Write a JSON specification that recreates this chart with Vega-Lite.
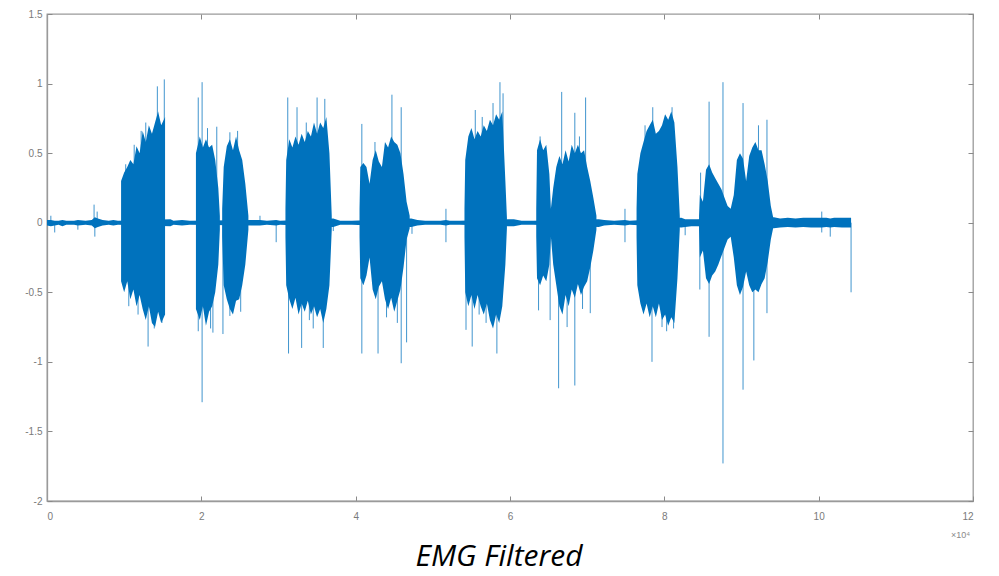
{
  "$schema": "https://vega.github.io/schema/vega-lite/v6.json",
  "width": 926,
  "height": 487,
  "autosize": {"type": "none"},
  "padding": {"left": 47, "top": 14, "right": 26, "bottom": 75},
  "background": "white",
  "config": {
    "view": {"stroke": "#9a9a9a", "strokeWidth": 1.3},
    "axis": {"grid": false, "labelColor": "#7a7a7a", "labelFontSize": 10, "labelFont": "Liberation Sans", "tickColor": "#8a8a8a", "domainColor": "#9a9a9a", "domainWidth": 1.3, "tickSize": -5}
  },
  "title": {"text": "EMG Filtered", "orient": "bottom", "anchor": "middle", "fontSize": 30, "fontStyle": "italic", "fontWeight": "normal", "font": "Open Sans", "color": "#000000", "offset": 3, "dx": -11},
  "datasets": {
    "quiet": [
      {"x": 0.00, "lo": -0.02, "hi": 0.02}, {"x": 0.05, "lo": -0.025, "hi": 0.02}, {"x": 0.10, "lo": -0.02, "hi": 0.015},
      {"x": 0.15, "lo": -0.015, "hi": 0.015}, {"x": 0.20, "lo": -0.025, "hi": 0.02}, {"x": 0.25, "lo": -0.015, "hi": 0.015},
      {"x": 0.35, "lo": -0.015, "hi": 0.015}, {"x": 0.40, "lo": -0.02, "hi": 0.02}, {"x": 0.50, "lo": -0.015, "hi": 0.015},
      {"x": 0.58, "lo": -0.02, "hi": 0.02}, {"x": 0.62, "lo": -0.04, "hi": 0.04}, {"x": 0.66, "lo": -0.03, "hi": 0.03},
      {"x": 0.72, "lo": -0.02, "hi": 0.02}, {"x": 0.80, "lo": -0.015, "hi": 0.015}, {"x": 0.86, "lo": -0.02, "hi": 0.02},
      {"x": 0.92, "lo": -0.015, "hi": 0.015}, {"x": 1.60, "lo": -0.025, "hi": 0.025}, {"x": 1.64, "lo": -0.015, "hi": 0.015},
      {"x": 1.75, "lo": -0.02, "hi": 0.02}, {"x": 1.85, "lo": -0.015, "hi": 0.015}, {"x": 2.65, "lo": -0.02, "hi": 0.02},
      {"x": 2.76, "lo": -0.02, "hi": 0.02}, {"x": 2.85, "lo": -0.015, "hi": 0.015}, {"x": 2.97, "lo": -0.02, "hi": 0.02},
      {"x": 3.02, "lo": -0.015, "hi": 0.015}, {"x": 3.71, "lo": -0.03, "hi": 0.03}, {"x": 3.80, "lo": -0.015, "hi": 0.015},
      {"x": 3.95, "lo": -0.015, "hi": 0.015}, {"x": 4.72, "lo": -0.03, "hi": 0.03}, {"x": 4.80, "lo": -0.02, "hi": 0.02},
      {"x": 4.90, "lo": -0.015, "hi": 0.015}, {"x": 5.10, "lo": -0.015, "hi": 0.015}, {"x": 5.17, "lo": -0.02, "hi": 0.02},
      {"x": 5.22, "lo": -0.015, "hi": 0.015}, {"x": 5.35, "lo": -0.015, "hi": 0.015}, {"x": 5.98, "lo": -0.025, "hi": 0.025},
      {"x": 6.05, "lo": -0.025, "hi": 0.025}, {"x": 6.15, "lo": -0.015, "hi": 0.015}, {"x": 6.30, "lo": -0.015, "hi": 0.015},
      {"x": 7.15, "lo": -0.03, "hi": 0.025}, {"x": 7.22, "lo": -0.02, "hi": 0.02}, {"x": 7.35, "lo": -0.015, "hi": 0.015},
      {"x": 7.49, "lo": -0.02, "hi": 0.02}, {"x": 7.55, "lo": -0.015, "hi": 0.015}, {"x": 8.22, "lo": -0.035, "hi": 0.035},
      {"x": 8.27, "lo": -0.03, "hi": 0.025}, {"x": 8.35, "lo": -0.025, "hi": 0.025}, {"x": 8.42, "lo": -0.025, "hi": 0.025},
      {"x": 8.86, "lo": -0.03, "hi": 0.03}, {"x": 9.42, "lo": -0.04, "hi": 0.04}, {"x": 9.50, "lo": -0.035, "hi": 0.03},
      {"x": 9.60, "lo": -0.03, "hi": 0.035}, {"x": 9.70, "lo": -0.035, "hi": 0.03}, {"x": 9.80, "lo": -0.03, "hi": 0.035},
      {"x": 9.90, "lo": -0.035, "hi": 0.035}, {"x": 10.04, "lo": -0.035, "hi": 0.035}, {"x": 10.10, "lo": -0.03, "hi": 0.035},
      {"x": 10.15, "lo": -0.035, "hi": 0.03}, {"x": 10.20, "lo": -0.03, "hi": 0.035}, {"x": 10.30, "lo": -0.035, "hi": 0.035},
      {"x": 10.42, "lo": -0.035, "hi": 0.035}
    ],
    "burst": [
      {"b": 1, "x": 0.96, "lo": -0.42, "hi": 0.30}, {"b": 1, "x": 1.00, "lo": -0.50, "hi": 0.36}, {"b": 1, "x": 1.04, "lo": -0.42, "hi": 0.40},
      {"b": 1, "x": 1.08, "lo": -0.55, "hi": 0.45}, {"b": 1, "x": 1.12, "lo": -0.48, "hi": 0.42}, {"b": 1, "x": 1.16, "lo": -0.60, "hi": 0.55},
      {"b": 1, "x": 1.20, "lo": -0.52, "hi": 0.50}, {"b": 1, "x": 1.24, "lo": -0.62, "hi": 0.66}, {"b": 1, "x": 1.28, "lo": -0.70, "hi": 0.58},
      {"b": 1, "x": 1.32, "lo": -0.60, "hi": 0.70}, {"b": 1, "x": 1.36, "lo": -0.72, "hi": 0.64}, {"b": 1, "x": 1.40, "lo": -0.75, "hi": 0.72},
      {"b": 1, "x": 1.44, "lo": -0.64, "hi": 0.80}, {"b": 1, "x": 1.48, "lo": -0.72, "hi": 0.70}, {"b": 1, "x": 1.53, "lo": -0.66, "hi": 0.76},
      {"b": 2, "x": 1.93, "lo": -0.62, "hi": 0.50}, {"b": 2, "x": 1.98, "lo": -0.70, "hi": 0.62}, {"b": 2, "x": 2.02, "lo": -0.60, "hi": 0.54},
      {"b": 2, "x": 2.06, "lo": -0.74, "hi": 0.60}, {"b": 2, "x": 2.10, "lo": -0.64, "hi": 0.54}, {"b": 2, "x": 2.14, "lo": -0.60, "hi": 0.56},
      {"b": 2, "x": 2.18, "lo": -0.50, "hi": 0.45}, {"b": 2, "x": 2.22, "lo": -0.30, "hi": 0.25}, {"b": 2, "x": 2.24, "lo": -0.05, "hi": 0.05},
      {"b": 3, "x": 2.27, "lo": -0.10, "hi": 0.10}, {"b": 3, "x": 2.29, "lo": -0.45, "hi": 0.40}, {"b": 3, "x": 2.33, "lo": -0.55, "hi": 0.55}, {"b": 3, "x": 2.37, "lo": -0.62, "hi": 0.60},
      {"b": 3, "x": 2.41, "lo": -0.66, "hi": 0.52}, {"b": 3, "x": 2.45, "lo": -0.56, "hi": 0.62}, {"b": 3, "x": 2.49, "lo": -0.55, "hi": 0.52},
      {"b": 3, "x": 2.53, "lo": -0.45, "hi": 0.45}, {"b": 3, "x": 2.57, "lo": -0.30, "hi": 0.28}, {"b": 3, "x": 2.61, "lo": -0.05, "hi": 0.05},
      {"b": 4, "x": 3.09, "lo": -0.10, "hi": 0.10}, {"b": 4, "x": 3.10, "lo": -0.45, "hi": 0.45}, {"b": 4, "x": 3.14, "lo": -0.55, "hi": 0.60}, {"b": 4, "x": 3.18, "lo": -0.62, "hi": 0.54},
      {"b": 4, "x": 3.22, "lo": -0.54, "hi": 0.62}, {"b": 4, "x": 3.26, "lo": -0.66, "hi": 0.56}, {"b": 4, "x": 3.30, "lo": -0.58, "hi": 0.64},
      {"b": 4, "x": 3.34, "lo": -0.64, "hi": 0.58}, {"b": 4, "x": 3.38, "lo": -0.56, "hi": 0.66}, {"b": 4, "x": 3.42, "lo": -0.66, "hi": 0.62},
      {"b": 4, "x": 3.46, "lo": -0.60, "hi": 0.72}, {"b": 4, "x": 3.50, "lo": -0.68, "hi": 0.64}, {"b": 4, "x": 3.54, "lo": -0.62, "hi": 0.72},
      {"b": 4, "x": 3.58, "lo": -0.72, "hi": 0.68}, {"b": 4, "x": 3.62, "lo": -0.62, "hi": 0.76}, {"b": 4, "x": 3.66, "lo": -0.45, "hi": 0.50},
      {"b": 4, "x": 3.69, "lo": -0.05, "hi": 0.05},
      {"b": 5, "x": 4.05, "lo": -0.10, "hi": 0.10}, {"b": 5, "x": 4.06, "lo": -0.40, "hi": 0.40}, {"b": 5, "x": 4.10, "lo": -0.45, "hi": 0.43}, {"b": 5, "x": 4.14, "lo": -0.38, "hi": 0.40},
      {"b": 5, "x": 4.18, "lo": -0.25, "hi": 0.28}, {"b": 5, "x": 4.22, "lo": -0.48, "hi": 0.45}, {"b": 5, "x": 4.26, "lo": -0.55, "hi": 0.52},
      {"b": 5, "x": 4.30, "lo": -0.46, "hi": 0.44}, {"b": 5, "x": 4.34, "lo": -0.42, "hi": 0.40}, {"b": 5, "x": 4.38, "lo": -0.55, "hi": 0.58},
      {"b": 5, "x": 4.42, "lo": -0.62, "hi": 0.54}, {"b": 5, "x": 4.46, "lo": -0.54, "hi": 0.62}, {"b": 5, "x": 4.50, "lo": -0.64, "hi": 0.58},
      {"b": 5, "x": 4.54, "lo": -0.56, "hi": 0.56}, {"b": 5, "x": 4.58, "lo": -0.48, "hi": 0.50}, {"b": 5, "x": 4.62, "lo": -0.32, "hi": 0.35},
      {"b": 5, "x": 4.66, "lo": -0.12, "hi": 0.15}, {"b": 5, "x": 4.70, "lo": -0.04, "hi": 0.05},
      {"b": 6, "x": 5.41, "lo": -0.10, "hi": 0.10}, {"b": 6, "x": 5.42, "lo": -0.50, "hi": 0.45}, {"b": 6, "x": 5.46, "lo": -0.60, "hi": 0.62}, {"b": 6, "x": 5.50, "lo": -0.52, "hi": 0.68},
      {"b": 6, "x": 5.54, "lo": -0.62, "hi": 0.60}, {"b": 6, "x": 5.58, "lo": -0.52, "hi": 0.66}, {"b": 6, "x": 5.62, "lo": -0.60, "hi": 0.62},
      {"b": 6, "x": 5.66, "lo": -0.66, "hi": 0.70}, {"b": 6, "x": 5.70, "lo": -0.58, "hi": 0.66}, {"b": 6, "x": 5.74, "lo": -0.70, "hi": 0.74},
      {"b": 6, "x": 5.78, "lo": -0.76, "hi": 0.70}, {"b": 6, "x": 5.82, "lo": -0.66, "hi": 0.78}, {"b": 6, "x": 5.86, "lo": -0.72, "hi": 0.74},
      {"b": 6, "x": 5.90, "lo": -0.60, "hi": 0.80}, {"b": 6, "x": 5.94, "lo": -0.30, "hi": 0.30}, {"b": 6, "x": 5.96, "lo": -0.04, "hi": 0.04},
      {"b": 7, "x": 6.34, "lo": -0.10, "hi": 0.10}, {"b": 7, "x": 6.35, "lo": -0.40, "hi": 0.52}, {"b": 7, "x": 6.39, "lo": -0.45, "hi": 0.60}, {"b": 7, "x": 6.43, "lo": -0.38, "hi": 0.52},
      {"b": 7, "x": 6.47, "lo": -0.42, "hi": 0.56}, {"b": 7, "x": 6.51, "lo": -0.30, "hi": 0.35}, {"b": 7, "x": 6.53, "lo": -0.10, "hi": 0.10},
      {"b": 7, "x": 6.56, "lo": -0.30, "hi": 0.25}, {"b": 7, "x": 6.60, "lo": -0.45, "hi": 0.40}, {"b": 7, "x": 6.64, "lo": -0.60, "hi": 0.48},
      {"b": 7, "x": 6.68, "lo": -0.66, "hi": 0.42}, {"b": 7, "x": 6.72, "lo": -0.52, "hi": 0.52}, {"b": 7, "x": 6.76, "lo": -0.60, "hi": 0.44},
      {"b": 7, "x": 6.80, "lo": -0.48, "hi": 0.56}, {"b": 7, "x": 6.84, "lo": -0.54, "hi": 0.50}, {"b": 7, "x": 6.88, "lo": -0.44, "hi": 0.56},
      {"b": 7, "x": 6.92, "lo": -0.52, "hi": 0.50}, {"b": 7, "x": 6.96, "lo": -0.46, "hi": 0.52}, {"b": 7, "x": 7.00, "lo": -0.42, "hi": 0.40},
      {"b": 7, "x": 7.04, "lo": -0.32, "hi": 0.30}, {"b": 7, "x": 7.08, "lo": -0.20, "hi": 0.18}, {"b": 7, "x": 7.12, "lo": -0.05, "hi": 0.05},
      {"b": 8, "x": 7.64, "lo": -0.10, "hi": 0.10}, {"b": 8, "x": 7.65, "lo": -0.45, "hi": 0.35}, {"b": 8, "x": 7.69, "lo": -0.58, "hi": 0.50}, {"b": 8, "x": 7.73, "lo": -0.66, "hi": 0.58},
      {"b": 8, "x": 7.77, "lo": -0.58, "hi": 0.66}, {"b": 8, "x": 7.81, "lo": -0.68, "hi": 0.70}, {"b": 8, "x": 7.85, "lo": -0.60, "hi": 0.74},
      {"b": 8, "x": 7.89, "lo": -0.68, "hi": 0.64}, {"b": 8, "x": 7.93, "lo": -0.58, "hi": 0.66}, {"b": 8, "x": 7.97, "lo": -0.70, "hi": 0.70},
      {"b": 8, "x": 8.01, "lo": -0.66, "hi": 0.78}, {"b": 8, "x": 8.05, "lo": -0.74, "hi": 0.74}, {"b": 8, "x": 8.09, "lo": -0.68, "hi": 0.80},
      {"b": 8, "x": 8.13, "lo": -0.72, "hi": 0.72}, {"b": 8, "x": 8.17, "lo": -0.40, "hi": 0.40}, {"b": 8, "x": 8.20, "lo": -0.05, "hi": 0.05},
      {"b": 9, "x": 8.45, "lo": -0.05, "hi": 0.05}, {"b": 9, "x": 8.46, "lo": -0.25, "hi": 0.20}, {"b": 9, "x": 8.50, "lo": -0.20, "hi": 0.15}, {"b": 9, "x": 8.54, "lo": -0.40, "hi": 0.38},
      {"b": 9, "x": 8.58, "lo": -0.44, "hi": 0.42}, {"b": 9, "x": 8.62, "lo": -0.38, "hi": 0.36}, {"b": 9, "x": 8.66, "lo": -0.35, "hi": 0.32},
      {"b": 9, "x": 8.70, "lo": -0.30, "hi": 0.28}, {"b": 9, "x": 8.74, "lo": -0.24, "hi": 0.24}, {"b": 9, "x": 8.78, "lo": -0.18, "hi": 0.18},
      {"b": 9, "x": 8.82, "lo": -0.12, "hi": 0.12}, {"b": 9, "x": 8.86, "lo": -0.10, "hi": 0.10},
      {"b": 9, "x": 8.90, "lo": -0.25, "hi": 0.20}, {"b": 9, "x": 8.94, "lo": -0.45, "hi": 0.45}, {"b": 9, "x": 8.98, "lo": -0.52, "hi": 0.50},
      {"b": 9, "x": 9.02, "lo": -0.46, "hi": 0.46}, {"b": 9, "x": 9.06, "lo": -0.35, "hi": 0.30}, {"b": 9, "x": 9.10, "lo": -0.45, "hi": 0.48},
      {"b": 9, "x": 9.14, "lo": -0.50, "hi": 0.54}, {"b": 9, "x": 9.18, "lo": -0.48, "hi": 0.58}, {"b": 9, "x": 9.22, "lo": -0.50, "hi": 0.52},
      {"b": 9, "x": 9.26, "lo": -0.44, "hi": 0.52}, {"b": 9, "x": 9.30, "lo": -0.40, "hi": 0.42}, {"b": 9, "x": 9.34, "lo": -0.28, "hi": 0.30},
      {"b": 9, "x": 9.38, "lo": -0.12, "hi": 0.12}, {"b": 9, "x": 9.41, "lo": -0.04, "hi": 0.04}
    ],
    "spike": [
      {"x": 0.05, "v": 0.05}, {"x": 0.10, "v": -0.07}, {"x": 0.40, "v": -0.05}, {"x": 0.61, "v": 0.13}, {"x": 0.62, "v": -0.10}, {"x": 0.65, "v": 0.08},
      {"x": 1.02, "v": 0.42}, {"x": 1.06, "v": -0.60}, {"x": 1.13, "v": 0.56}, {"x": 1.18, "v": -0.66}, {"x": 1.22, "v": 0.66},
      {"x": 1.28, "v": 0.72}, {"x": 1.43, "v": 0.98}, {"x": 1.52, "v": 1.03}, {"x": 1.31, "v": -0.89}, {"x": 1.39, "v": -0.76}, {"x": 1.49, "v": -0.72},
      {"x": 1.96, "v": 0.90}, {"x": 2.01, "v": 1.01}, {"x": 2.01, "v": -1.29}, {"x": 1.96, "v": -0.78}, {"x": 2.15, "v": -0.79}, {"x": 2.20, "v": 0.69},
      {"x": 2.08, "v": 0.68}, {"x": 2.12, "v": -0.76},
      {"x": 2.28, "v": -0.80}, {"x": 2.37, "v": -0.67}, {"x": 2.37, "v": 0.65}, {"x": 2.47, "v": 0.66}, {"x": 2.51, "v": -0.64},
      {"x": 2.76, "v": 0.05}, {"x": 2.97, "v": -0.14},
      {"x": 3.12, "v": 0.90}, {"x": 3.24, "v": 0.83}, {"x": 3.50, "v": 0.90}, {"x": 3.60, "v": 0.89}, {"x": 3.13, "v": -0.94}, {"x": 3.30, "v": -0.90}, {"x": 3.58, "v": -0.90}, {"x": 3.45, "v": -0.76},
      {"x": 3.36, "v": 0.72}, {"x": 3.40, "v": -0.70}, {"x": 3.71, "v": -0.06},
      {"x": 4.08, "v": 0.71}, {"x": 4.47, "v": 0.92}, {"x": 4.59, "v": 0.83}, {"x": 4.08, "v": -0.94}, {"x": 4.29, "v": -0.94}, {"x": 4.59, "v": -1.01}, {"x": 4.66, "v": -0.86}, {"x": 4.54, "v": -0.72},
      {"x": 4.25, "v": 0.58}, {"x": 4.40, "v": -0.68}, {"x": 4.73, "v": -0.08}, {"x": 5.17, "v": 0.10}, {"x": 5.17, "v": -0.14},
      {"x": 5.55, "v": 0.81}, {"x": 5.78, "v": 0.86}, {"x": 5.87, "v": 1.01}, {"x": 5.91, "v": 0.93}, {"x": 5.43, "v": -0.77}, {"x": 5.51, "v": -0.89}, {"x": 5.83, "v": -0.94}, {"x": 5.69, "v": -0.72},
      {"x": 5.64, "v": 0.76}, {"x": 5.60, "v": -0.66},
      {"x": 6.39, "v": 0.62}, {"x": 6.37, "v": -0.63}, {"x": 6.52, "v": -0.70},
      {"x": 6.67, "v": 0.94}, {"x": 6.84, "v": 0.79}, {"x": 6.98, "v": 0.90}, {"x": 6.63, "v": -1.19}, {"x": 6.84, "v": -1.17}, {"x": 7.04, "v": -0.65}, {"x": 6.74, "v": -0.75},
      {"x": 6.90, "v": 0.62}, {"x": 6.94, "v": -0.62}, {"x": 7.49, "v": 0.10}, {"x": 7.49, "v": -0.14},
      {"x": 7.85, "v": 0.83}, {"x": 8.10, "v": 0.83}, {"x": 7.84, "v": -1.00}, {"x": 7.97, "v": -0.75}, {"x": 8.12, "v": -0.76},
      {"x": 7.75, "v": 0.70}, {"x": 8.03, "v": -0.78}, {"x": 8.27, "v": -0.09},
      {"x": 8.47, "v": 0.36}, {"x": 8.58, "v": 0.87}, {"x": 8.76, "v": 1.01}, {"x": 8.46, "v": -0.48}, {"x": 8.58, "v": -0.82}, {"x": 8.76, "v": -1.73},
      {"x": 9.02, "v": 0.86}, {"x": 9.33, "v": 0.74}, {"x": 9.22, "v": 0.70}, {"x": 9.02, "v": -1.20}, {"x": 9.16, "v": -0.99}, {"x": 9.33, "v": -0.65},
      {"x": 10.04, "v": 0.08}, {"x": 10.04, "v": -0.07}, {"x": 10.15, "v": -0.10},
      {"x": 10.42, "v": -0.50}
    ]
  },
  "layer": [
    {
      "data": {"name": "spike"},
      "mark": {"type": "rule", "color": "#0072BD", "strokeWidth": 1, "opacity": 0.75},
      "encoding": {
        "x": {"field": "x", "type": "quantitative", "scale": {"domain": [0, 12], "nice": false},
              "axis": {"orient": "top", "values": [0, 2, 4, 6, 8, 10, 12], "labels": false, "domain": false, "title": null}},
        "y": {"field": "v", "type": "quantitative", "scale": {"domain": [-2, 1.5], "nice": false, "zero": false},
              "axis": {"orient": "right", "values": [-2, -1.5, -1, -0.5, 0, 0.5, 1, 1.5], "labels": false, "domain": false, "title": null}},
        "y2": {"datum": 0}
      }
    },
    {
      "data": {"name": "quiet"},
      "mark": {"type": "area", "color": "#0072BD", "opacity": 1},
      "encoding": {
        "x": {"field": "x", "type": "quantitative",
              "axis": {"orient": "bottom", "values": [0, 2, 4, 6, 8, 10, 12], "labelExpr": "'' + datum.value", "labelPadding": 15, "title": "×10⁴", "titleFontSize": 9, "titleFontWeight": "normal", "titleColor": "#8a8a8a", "titleX": 913, "titleY": 29, "titleAlign": "center"}},
        "y": {"field": "lo", "type": "quantitative",
              "axis": {"orient": "left", "values": [-2, -1.5, -1, -0.5, 0, 0.5, 1, 1.5], "labelExpr": "'' + datum.value", "labelPadding": 10, "title": null}},
        "y2": {"field": "hi"}
      }
    },
    {
      "data": {"name": "burst"},
      "mark": {"type": "area", "color": "#0072BD", "opacity": 1},
      "encoding": {
        "x": {"field": "x", "type": "quantitative", "axis": null},
        "y": {"field": "lo", "type": "quantitative", "axis": null},
        "y2": {"field": "hi"},
        "detail": {"field": "b", "type": "nominal"}
      }
    }
  ],
  "resolve": {"axis": {"x": "independent", "y": "independent"}}
}
